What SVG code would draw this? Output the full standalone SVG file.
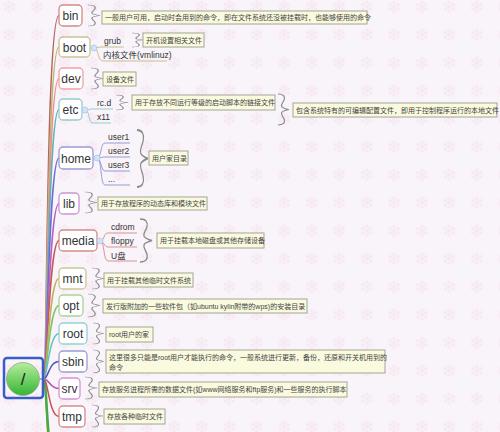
<svg xmlns="http://www.w3.org/2000/svg" width="500" height="432" viewBox="0 0 500 432">
<defs>
<pattern id="snow" patternUnits="userSpaceOnUse" x="-4.5" y="-7.3" width="27.5" height="28">
<g transform="translate(13.75,14)" stroke="#f7e6ef" stroke-width="1" fill="none">
<g id="arm"><path d="M0,0 V-6.5 M-2,-5 L0,-3.5 L2,-5"/></g>
<use href="#arm" transform="rotate(60)"/>
<use href="#arm" transform="rotate(120)"/>
<use href="#arm" transform="rotate(180)"/>
<use href="#arm" transform="rotate(240)"/>
<use href="#arm" transform="rotate(300)"/>
</g>
</pattern>
<linearGradient id="green" x1="0" y1="0" x2="0" y2="1">
<stop offset="0" stop-color="#b6ee9c"/>
<stop offset="1" stop-color="#34b534"/>
</linearGradient>
<path id="brace" d="M0,0 C6,0 8,3 7,7 C6,11 3,13 4,16 C5,18 8,19 12,20 C8,21 5,22 4,24 C3,27 6,29 7,33 C8,37 6,40 0,40"/>
</defs>
<style>
.node rect{fill:#fff;stroke-width:1.3}
.nt{font-family:"Liberation Sans","Noto Sans CJK SC",sans-serif;font-size:12px;fill:#333;text-anchor:middle}
.st{font-family:"Liberation Sans","Noto Sans CJK SC",sans-serif;font-size:8.5px;fill:#333}
.note rect{fill:#fafadf;stroke:#a4a496;stroke-width:1}
.note text{font-family:"Liberation Sans","Noto Sans CJK SC",sans-serif;font-size:7px;fill:#444}
.br{fill:none;stroke:#8a8a8a;stroke-width:1.3}
.dot{fill:#d3e3f6;stroke:#aac6ea;stroke-width:0.8}
#connectors path{fill:none;stroke-width:1.5}
.sub{fill:none;stroke-width:1}
</style>
<rect width="500" height="432" fill="#f8f4fa"/>
<rect width="500" height="432" fill="url(#snow)"/>

<g id="connectors">
<path d="M44,379 C47,379 48,520 59,520" stroke="#e39a3c"/>
<path d="M44,379 C47,379 47,480 59,480" stroke="#45a845" style="stroke-width:2.5"/>
<path d="M44,379 C47,379 46,15.5 59,15.5" stroke="#b3645d"/>
<path d="M44,379 C47,379 47,47 59,47" stroke="#bdb472"/>
<path d="M44,379 C47,379 47.5,78.5 59,78.5" stroke="#ea8f8f"/>
<path d="M44,379 C47,379 48,109.5 59,109.5" stroke="#63b3b3"/>
<path d="M44,379 C47,379 48.5,158 59,158" stroke="#6c6cd2"/>
<path d="M44,379 C47,379 49,203.5 59,203.5" stroke="#b463c3"/>
<path d="M44,379 C47,379 49,240.5 59,240.5" stroke="#c85656"/>
<path d="M44,379 C47,379 49,278.5 59,278.5" stroke="#bcb458"/>
<path d="M44,379 C47,379 49,305.5 59,305.5" stroke="#84c466"/>
<path d="M44,379 C47,379 49,333.5 59,333.5" stroke="#62c2c2"/>
<path d="M44,379 C48,379 49,361.5 59,361.5" stroke="#5050c2"/>
<path d="M44,379 C49,379 50,388.5 59,388.5" stroke="#b052b0"/>
<path d="M44,379 C48,379 49,416.5 59,416.5" stroke="#c25454"/>
<path d="M39,379 L46,379" stroke="#8fa08f"/>
</g>

<g id="root">
<rect x="4" y="358" width="39" height="40" rx="3" fill="none" stroke="#3b5cc8" stroke-width="2.5"/>
<circle cx="23" cy="379" r="16.5" fill="url(#green)" stroke="#9aa59a" stroke-width="0.8"/>
<text x="23" y="385" font-family="Liberation Sans, sans-serif" font-size="17" fill="#222" text-anchor="middle">/</text>
</g>

<g id="n-bin" class="node">
<rect x="59" y="5" width="23" height="21" rx="4" stroke="#d08a86"/>
<text class="nt" x="70.5" y="20">bin</text>
<use href="#brace" class="br" transform="translate(88,5) scale(1,0.525)"/>
<g class="note"><rect x="102" y="11" width="265" height="13"/><text x="105" y="20">一般用户可用，启动时会用到的命令，即在文件系统还没被挂载时，也能够使用的命令</text></g>
</g>

<g id="n-boot" class="node">
<path class="sub" stroke="#c8c08e" d="M94,48 C98,48 98,47 102,47 L124,47 M94,48 C99,48 97,61 103,61 L167,61"/>
<rect x="59" y="37" width="31" height="20" rx="4" stroke="#c9c294"/>
<text class="nt" x="74.5" y="51.5">boot</text>
<circle class="dot" cx="94" cy="48" r="3"/>
<text class="st" x="104" y="44">grub</text>
<text class="st" x="103" y="57.5">内核文件(vmlinuz)</text>
<use href="#brace" class="br" transform="translate(132,33) scale(1,0.35)"/>
<g class="note"><rect x="143" y="33" width="61" height="14"/><text x="146" y="42.5">开机设置相关文件</text></g>
</g>

<g id="n-dev" class="node">
<rect x="59" y="68" width="24" height="21" rx="4" stroke="#f0a4a4"/>
<text class="nt" x="71" y="83">dev</text>
<use href="#brace" class="br" transform="translate(91,68) scale(1,0.525)"/>
<g class="note"><rect x="103" y="72" width="33" height="14"/><text x="106" y="81.5">设备文件</text></g>
</g>

<g id="n-etc" class="node">
<path class="sub" stroke="#94cccc" d="M85,110 C89,110 89,109 92,109 L113,109 M85,110 C90,110 88,123 93,123 L111,123"/>
<rect x="59" y="99" width="23" height="21" rx="4" stroke="#94cccc"/>
<text class="nt" x="70.5" y="114">etc</text>
<circle class="dot" cx="85" cy="110" r="3"/>
<text class="st" x="97" y="106">rc.d</text>
<text class="st" x="97" y="120">x11</text>
<use href="#brace" class="br" transform="translate(116,95) scale(1,0.375)"/>
<g class="note"><rect x="132" y="95" width="143" height="15"/><text x="135" y="105">用于存放不同运行等级的启动脚本的链接文件</text></g>
<use href="#brace" class="br" transform="translate(278,94) scale(0.9,0.775)"/>
<g class="note"><rect x="293" y="103" width="204" height="14"/><text x="296" y="112.5">包含系统特有的可编辑配置文件，即用于控制程序运行的本地文件</text></g>
</g>

<g id="n-home" class="node">
<path class="sub" stroke="#9a9ad8" d="M97,158 C102,158 100,143 105,143 L130,143 M97,158 C101,158 101,157 105,157 L130,157 M97,158 C101,158 101,171 105,171 L130,171 M97,158 C102,158 100,185 105,185 L130,185"/>
<rect x="59" y="147" width="34" height="22" rx="4" stroke="#9a9ad6"/>
<text class="nt" x="76" y="162.5">home</text>
<circle class="dot" cx="97" cy="158" r="3"/>
<text class="st" x="108" y="140">user1</text>
<text class="st" x="108" y="154">user2</text>
<text class="st" x="108" y="168">user3</text>
<text class="st" x="108" y="182">...</text>
<use href="#brace" class="br" transform="translate(137,130) scale(0.9,1.425)"/>
<g class="note"><rect x="149" y="151" width="39" height="14"/><text x="152" y="160.5">用户家目录</text></g>
</g>

<g id="n-lib" class="node">
<rect x="59" y="193" width="20" height="21" rx="4" stroke="#cc94d6"/>
<text class="nt" x="69" y="208">lib</text>
<use href="#brace" class="br" transform="translate(85,192) scale(1,0.525)"/>
<g class="note"><rect x="98" y="197" width="109" height="13"/><text x="101" y="206">用于存放程序的动态库和模块文件</text></g>
</g>

<g id="n-media" class="node">
<path class="sub" stroke="#da9494" d="M100,241 C105,241 103,233 108,233 L137,233 M100,241 C104,241 104,247 108,247 L137,247 M100,241 C105,241 103,261 108,261 L137,261"/>
<rect x="59" y="230" width="38" height="21" rx="4" stroke="#d48c8c"/>
<text class="nt" x="78" y="245">media</text>
<circle class="dot" cx="100" cy="241" r="3"/>
<text class="st" x="111" y="230">cdrom</text>
<text class="st" x="111" y="244">floppy</text>
<text class="st" x="111" y="258.5">U盘</text>
<use href="#brace" class="br" transform="translate(140,219) scale(1,1.075)"/>
<g class="note"><rect x="157" y="233" width="107" height="15"/><text x="160" y="243">用于挂载本地磁盘或其他存储设备</text></g>
</g>

<g id="n-mnt" class="node">
<rect x="59" y="268" width="27" height="21" rx="4" stroke="#cac894"/>
<text class="nt" x="72.5" y="283">mnt</text>
<use href="#brace" class="br" transform="translate(92,268) scale(1,0.525)"/>
<g class="note"><rect x="104" y="273" width="89" height="14"/><text x="107" y="282.5">用于挂载其他临时文件系统</text></g>
</g>

<g id="n-opt" class="node">
<rect x="59" y="295" width="24" height="21" rx="4" stroke="#a6d496"/>
<text class="nt" x="71" y="310">opt</text>
<use href="#brace" class="br" transform="translate(88,294) scale(1,0.575)"/>
<g class="note"><rect x="103" y="299" width="204" height="14"/><text x="106" y="308.5">发行版附加的一些软件包（如ubuntu kylin附带的wps)的安装目录</text></g>
</g>

<g id="n-root" class="node">
<rect x="59" y="323" width="28" height="21" rx="4" stroke="#94d2d2"/>
<text class="nt" x="73" y="338">root</text>
<use href="#brace" class="br" transform="translate(93,323) scale(0.9,0.525)"/>
<g class="note"><rect x="106" y="327" width="47" height="15"/><text x="109" y="337">root用户的家</text></g>
</g>

<g id="n-sbin" class="node">
<rect x="59" y="351" width="28" height="21" rx="4" stroke="#9c9cd4"/>
<text class="nt" x="73" y="366">sbin</text>
<use href="#brace" class="br" transform="translate(93,350) scale(0.9,0.575)"/>
<g class="note"><rect x="106" y="350" width="279" height="23"/><text x="109" y="359.5">这里很多只能是root用户才能执行的命令，一般系统进行更新，备份，还原和开关机用到的</text><text x="109" y="369.5">命令</text></g>
</g>

<g id="n-srv" class="node">
<rect x="59" y="378" width="21" height="21" rx="4" stroke="#d494d4"/>
<text class="nt" x="69.5" y="393">srv</text>
<use href="#brace" class="br" transform="translate(85,377) scale(1,0.55)"/>
<g class="note"><rect x="99" y="382" width="248" height="15"/><text x="102" y="392">存放服务进程所需的数据文件(如www网络服务和ftp服务)和一些服务的执行脚本</text></g>
</g>

<g id="n-tmp" class="node">
<rect x="59" y="406" width="26" height="21" rx="4" stroke="#d48c8c"/>
<text class="nt" x="72" y="421">tmp</text>
<use href="#brace" class="br" transform="translate(92,405) scale(0.9,0.55)"/>
<g class="note"><rect x="104" y="409" width="61" height="15"/><text x="107" y="419">存放各种临时文件</text></g>
</g>
</svg>
